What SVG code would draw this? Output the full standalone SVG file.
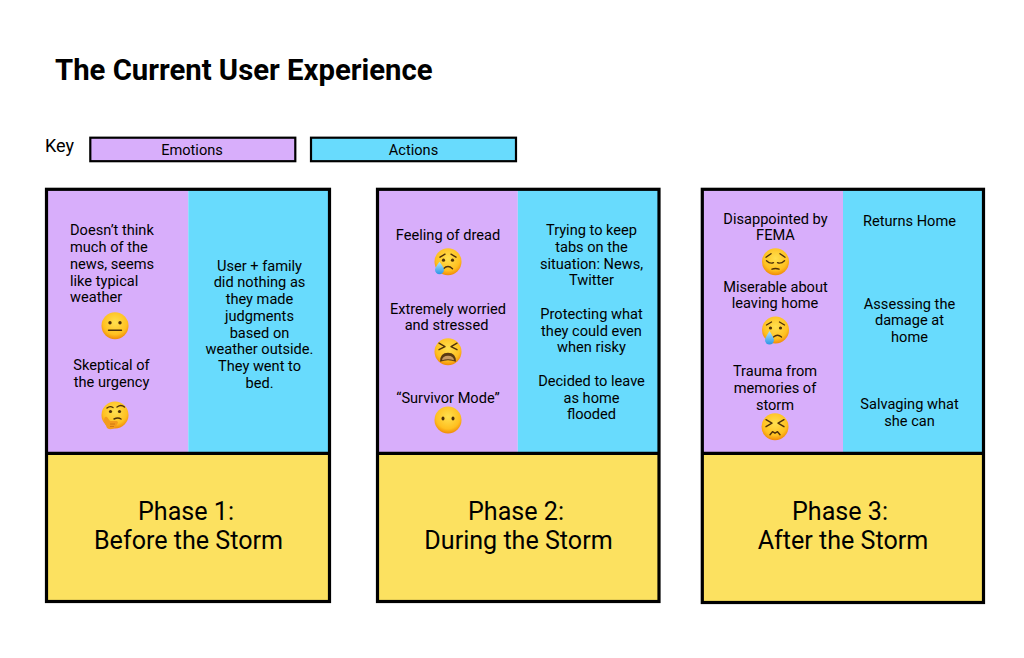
<svg xmlns="http://www.w3.org/2000/svg" width="1024" height="658" viewBox="0 0 1024 658">
<style>
text{font-family:Roboto,"Liberation Sans",sans-serif;fill:#000;}
.t{font-size:14.6px;text-anchor:middle;}
.l{font-size:14.6px;text-anchor:start;}
.ph{font-size:25.100px;text-anchor:middle;}
.b{stroke:#000;stroke-width:3.2;fill:none;}
.k{stroke:#000;stroke-width:2.2;fill:none;}
.em{fill:#d8aefb;}
.ac{fill:#68dbfd;}
.ye{fill:#fce160;}
.f{stroke:#4e3009;stroke-width:1.4;fill:none;stroke-linecap:round;stroke-linejoin:round;}
.d{fill:#4e3009;}
</style>
<defs>
<radialGradient id="sk" cx="50%" cy="38%" r="62%"><stop offset="0" stop-color="#ffe04f"/><stop offset="0.72" stop-color="#ffc020"/><stop offset="1" stop-color="#f08a08"/></radialGradient>
<linearGradient id="tear" x1="0" y1="0" x2="0" y2="1"><stop offset="0" stop-color="#b5e6fb"/><stop offset="1" stop-color="#2a95e6"/></linearGradient>
<circle id="face" r="13.5" fill="url(#sk)"/>
<g id="e-neutral"><use href="#face"/><circle class="d" cx="-5" cy="-3" r="1.7"/><circle class="d" cx="5" cy="-3" r="1.7"/><path class="f" d="M-6.500 4.500H6.500"/></g>
<g id="e-think"><use href="#face"/><circle class="d" cx="-4.500" cy="-3.500" r="1.6"/><circle class="d" cx="4.500" cy="-3.500" r="1.6"/><path class="f" d="M-8-7Q-5-9.500-2-7.500M2-8Q6-11 9.500-8M-1 4Q3 2 6 4"/><path d="M-11 6Q-11 1-8 2L-5 6 2 6Q4 8 2 9L1 12Q-4 16-8 13Z" fill="#f39c1c"/><path d="M-5 9H0M-5 11.500H-1" stroke="#c9700f" stroke-width=".8" fill="none"/></g>
<g id="e-sweat"><use href="#face"/><circle class="d" cx="-4.500" cy="-1.500" r="1.6"/><circle class="d" cx="4.500" cy="-1.500" r="1.6"/><path class="f" d="M-8-4.500-3-7.500M8-4.500 3-7.500M-4.500 7Q0 2.500 4.500 7"/><path d="M-8.500 0Q-13 6-13 8A4.500 4.500 0 0 0-4 8Q-4 6-8.500 0Z" fill="url(#tear)"/></g>
<g id="e-tired"><use href="#face"/><path class="f" d="M-9-8.500-3-5-9-2M9-8.500 3-5 9-2"/><path d="M-8 10Q-8 1 0 1Q8 1 8 10Q0 7-8 10Z" fill="#5a3a12"/><path d="M-6 8.500Q-5.500 4 0 4Q5.500 4 6 8.500Q0 6.500-6 8.500Z" fill="#c79a62"/></g>
<g id="e-blank"><use href="#face"/><ellipse class="d" cx="-5" cy="-1.500" rx="1.500" ry="2"/><ellipse class="d" cx="5" cy="-1.500" rx="1.500" ry="2"/></g>
<g id="e-pensive"><use href="#face"/><path class="f" d="M-9.500-4.500-4.500-8M9.500-4.500 4.500-8M-9-1Q-5.500 2.500-2 1M9-1Q5.500 2.500 2 1M-3.500 7.500Q0 6 3.500 7.500"/></g>
<g id="e-cry"><use href="#face"/><circle class="d" cx="-5" cy="-2" r="1.6"/><circle class="d" cx="5" cy="-2" r="1.6"/><path class="f" d="M-9-5-4-8M9-5 4-8M-2 7Q2 3.500 6 7"/><path d="M-6 1Q-10.500 8-10.500 10A4.500 4.500 0 0 0-1.500 10Q-1.500 8-6 1Z" fill="url(#tear)"/></g>
<g id="e-conf"><use href="#face"/><path class="f" d="M-9-7-3-3.500-9 0M9-7 3-3.500 9 0M-5 8-2.500 5 0 6.500 2.500 5 5 8"/></g>
</defs>
<rect width="1024" height="658" fill="#fff"/>

<g id="title"><text x="55" y="79.500" font-size="29.300" font-weight="700">The Current User Experience</text></g>

<g id="key">
<text x="45" y="152" font-size="18">Key</text>
<g id="key-emotions"><rect x="90.300" y="137.700" width="205" height="23.500" class="em"/><rect x="90.300" y="137.700" width="205" height="23.500" class="k"/><text x="192" y="155" class="t">Emotions</text></g>
<g id="key-actions"><rect x="311" y="137.700" width="205" height="23.500" class="ac"/><rect x="311" y="137.700" width="205" height="23.500" class="k"/><text x="413.500" y="155" class="t">Actions</text></g>
</g>

<g id="phase-1">
<rect x="46.500" y="189.300" width="141.800" height="264" class="em"/>
<rect x="188.300" y="189.300" width="141.200" height="264" class="ac"/>
<rect x="46.500" y="453.300" width="283" height="148.200" class="ye"/>
<rect x="46.500" y="189.300" width="283" height="412.200" class="b"/>
<path class="b" d="M46.500 453.300H329.500"/>
<text class="l" x="70" y="235">Doesn’t think</text>
<text class="l" x="70" y="252">much of the</text>
<text class="l" x="70" y="268.500">news, seems</text>
<text class="l" x="70" y="285.500">like typical</text>
<text class="l" x="70" y="302">weather</text>
<use href="#e-neutral" x="115" y="325.700"/>
<text class="t" x="111.500" y="370">Skeptical of</text>
<text class="t" x="111.500" y="387">the urgency</text>
<use href="#e-think" x="115" y="415"/>
<text class="t" x="259.500" y="270.500">User + family</text>
<text class="t" x="259.500" y="287">did nothing as</text>
<text class="t" x="259.500" y="304">they made</text>
<text class="t" x="259.500" y="320.500">judgments</text>
<text class="t" x="259.500" y="337.500">based on</text>
<text class="t" x="259.500" y="354">weather outside.</text>
<text class="t" x="259.500" y="371">They went to</text>
<text class="t" x="259.500" y="387.500">bed.</text>
<text class="ph" x="186" y="520">Phase 1:</text>
<text class="ph" x="188.500" y="549">Before the Storm</text>
</g>

<g id="phase-2">
<rect x="377.500" y="189.300" width="140.300" height="264" class="em"/>
<rect x="517.800" y="189.300" width="141.200" height="264" class="ac"/>
<rect x="377.500" y="453.300" width="281.500" height="148.200" class="ye"/>
<rect x="377.500" y="189.300" width="281.500" height="412.200" class="b"/>
<path class="b" d="M377.500 453.300H659"/>
<text class="t" x="448" y="240">Feeling of dread</text>
<use href="#e-sweat" x="448" y="261.700"/>
<text class="t" x="448" y="313.500">Extremely worried</text>
<text class="t" x="446.500" y="330">and stressed</text>
<use href="#e-tired" x="448" y="351.700"/>
<text class="t" x="448" y="403">“Survivor Mode”</text>
<use href="#e-blank" x="448" y="420"/>
<text class="t" x="591.500" y="235">Trying to keep</text>
<text class="t" x="591.500" y="252">tabs on the</text>
<text class="t" x="591.500" y="268.500">situation: News,</text>
<text class="t" x="591.500" y="285">Twitter</text>
<text class="t" x="591.500" y="318.500">Protecting what</text>
<text class="t" x="591.500" y="335.500">they could even</text>
<text class="t" x="591.500" y="352">when risky</text>
<text class="t" x="591.500" y="385.500">Decided to leave</text>
<text class="t" x="591.500" y="402.500">as home</text>
<text class="t" x="591.500" y="419">flooded</text>
<text class="ph" x="516" y="520">Phase 2:</text>
<text class="ph" x="518.500" y="549">During the Storm</text>
</g>

<g id="phase-3">
<rect x="702.300" y="189.300" width="140.700" height="264" class="em"/>
<rect x="843" y="189.300" width="140.500" height="264" class="ac"/>
<rect x="702.300" y="453.300" width="281.200" height="149.200" class="ye"/>
<rect x="702.300" y="189.300" width="281.200" height="413.200" class="b"/>
<path class="b" d="M702.300 453.300H983.500"/>
<text class="t" x="775.500" y="223.500">Disappointed by</text>
<text class="t" x="775.500" y="240">FEMA</text>
<use href="#e-pensive" x="775.500" y="261.700"/>
<text class="t" x="775.500" y="291.500">Miserable about</text>
<text class="t" x="775" y="308">leaving home</text>
<use href="#e-cry" x="775.500" y="330"/>
<text class="t" x="775" y="376">Trauma from</text>
<text class="t" x="775" y="393">memories of</text>
<text class="t" x="775" y="409.500">storm</text>
<use href="#e-conf" x="775" y="426.700"/>
<text class="t" x="909.500" y="225.500">Returns Home</text>
<text class="t" x="909.500" y="308.500">Assessing the</text>
<text class="t" x="909.500" y="325">damage at</text>
<text class="t" x="909.500" y="342">home</text>
<text class="t" x="909.500" y="409">Salvaging what</text>
<text class="t" x="909.500" y="425.500">she can</text>
<text class="ph" x="840" y="520">Phase 3:</text>
<text class="ph" x="843" y="549">After the Storm</text>
</g>
</svg>
